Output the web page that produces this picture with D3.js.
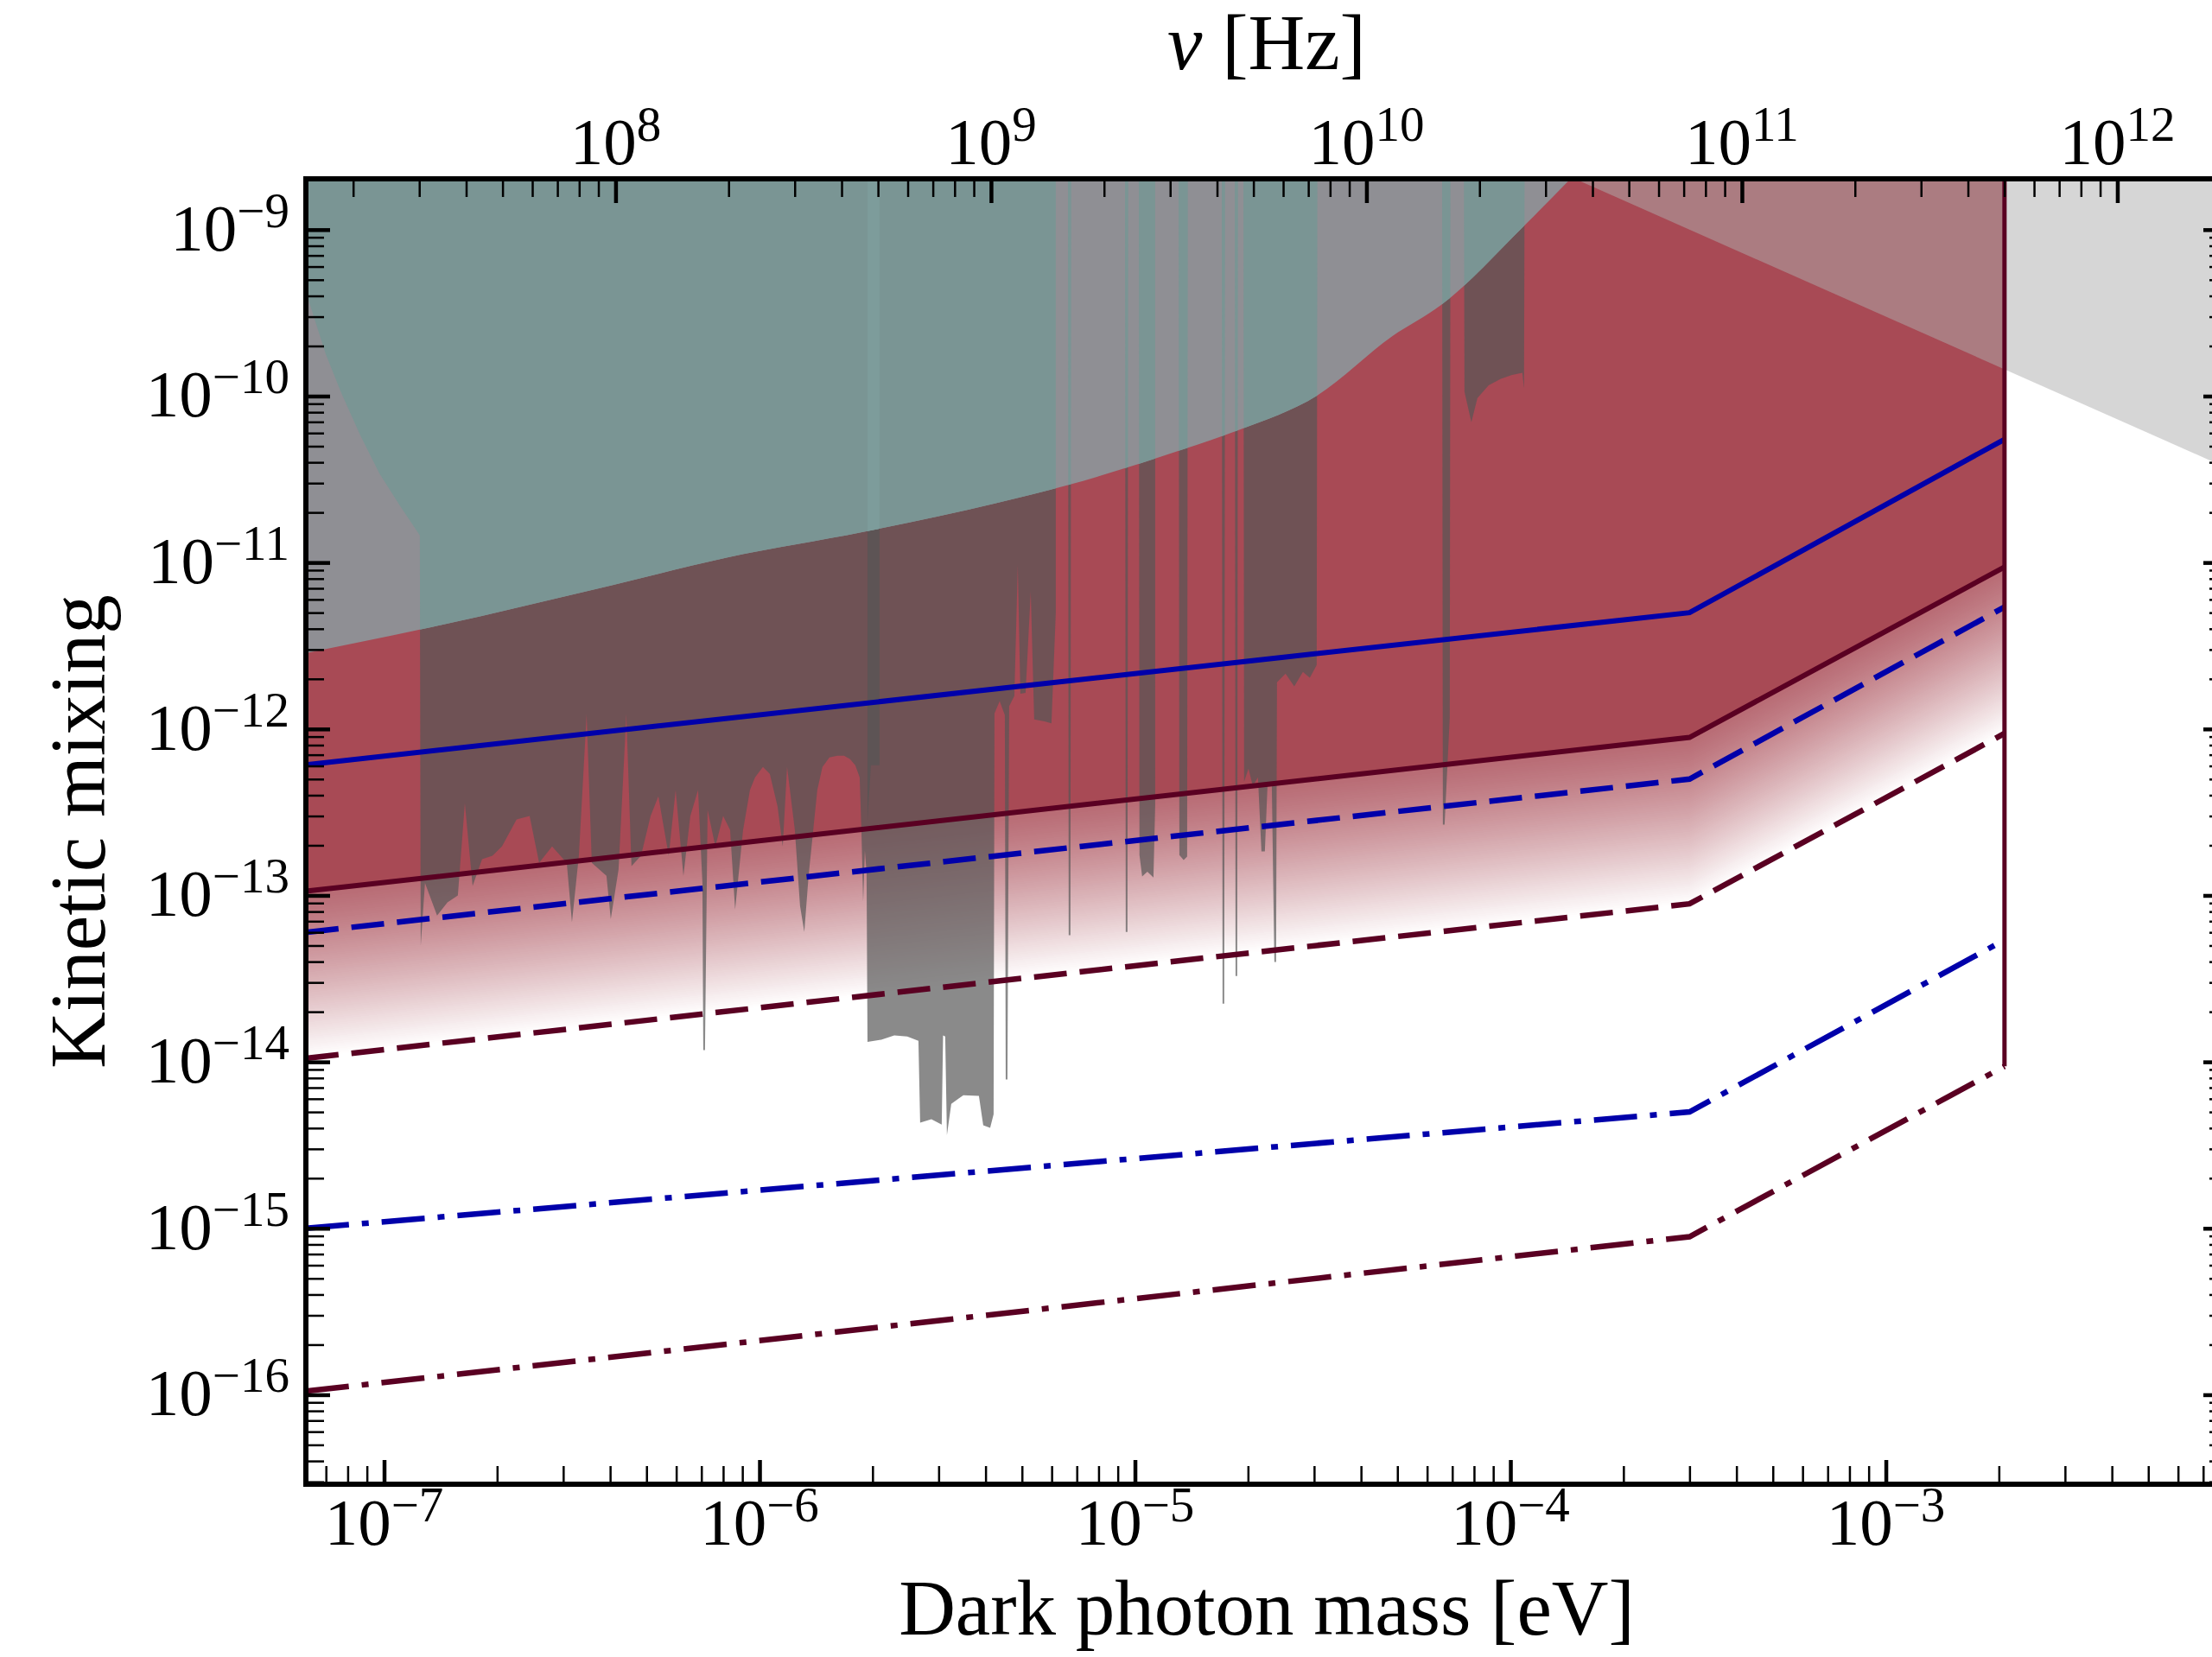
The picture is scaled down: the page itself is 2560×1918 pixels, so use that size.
<!DOCTYPE html>
<html>
<head>
<meta charset="utf-8">
<script src="https://cdn.jsdelivr.net/npm/d3@7"></script>
<style>
  html, body { margin: 0; padding: 0; background: #ffffff; }
  svg text { font-family: "Liberation Serif", "DejaVu Serif", serif; fill: #000; }
</style>
</head>
<body>
<svg id="chart" width="2560" height="1918"></svg>
<script>
// ---------------- data ----------------
// axis extents (dark photon mass in eV, kinetic mixing)
const massRange = [6.19e-8, 8.13e-3];
const mixingRange = [2.02e-9, 2.9e-17];
const EPS_CEIL = 1e-8;          // used for regions that run off the top of the frame
const EV_TO_HZ = 2.418e14;      // nu = m c^2 / h

// projected sensitivity curves: masses at the break points and the mixing reached there
const lineMass = [6.19e-8, 3.0e-4, 2.07e-3];
const blueSolid   = [6.1e-13, 5.0e-12, 5.5e-11];
const redSolid    = [1.06e-13, 8.9e-13, 9.4e-12];
const blueDashed  = [6.0e-14, 5.0e-13, 5.4e-12];
const redDashed   = [1.05e-14, 8.9e-14, 9.4e-13];
const blueDashDot = [1.0e-15, 5.0e-15, 5.4e-14];
const redDashDot  = [1.05e-16, 8.9e-16, 9.4e-15];

// upper edge of the region shaded beneath the astrophysical bound
const upperBoundMass = [6.19e-8, 1.245e-7, 4.02e-7, 8.17e-7, 1.90e-6, 4.26e-6, 6.59e-6,
  1.33e-5, 1.89e-5, 3.06e-5, 4.86e-5, 6.55e-5, 1.09e-4, 1.47e-4];
const upperBoundEps = [2.86e-12, 3.95e-12, 7.28e-12, 1.07e-11, 1.53e-11, 2.27e-11, 2.91e-11,
  4.75e-11, 6.25e-11, 1.01e-10, 2.30e-10, 3.54e-10, 1.06e-9, 2.1e-9];

// cosmological wedge edge
const wedgeMass = [1.0e-4, 1.0e-2];
const wedgeEps  = [3.0e-9, 3.0e-11];

// haloscope exclusions: lower edge, traced left to right [mass eV, mixing]
const haloscopeBound = [
  [6.19e-8, 1e-8], [6.19e-8, 4.23e-10], [6.99e-8, 1.79e-10], [7.69e-8, 1.045e-10],
  [8.64e-8, 5.82e-11], [9.71e-8, 3.44e-11], [1.096e-7, 2.24e-11], [1.245e-7, 1.455e-11],
  [1.252e-7, 4.99e-14], [1.285e-7, 1.19e-13], [1.384e-7, 7.58e-14], [1.475e-7, 9.07e-14],
  [1.572e-7, 9.98e-14], [1.641e-7, 3.58e-13], [1.721e-7, 1.14e-13], [1.824e-7, 1.65e-13],
  [1.944e-7, 1.73e-13], [2.060e-7, 1.97e-13], [2.254e-7, 2.86e-13], [2.441e-7, 3.0e-13],
  [2.588e-7, 1.57e-13], [2.802e-7, 1.97e-13], [3.066e-7, 1.57e-13], [3.165e-7, 6.89e-14],
  [3.302e-7, 1.73e-13], [3.463e-7, 1.23e-12], [3.575e-7, 1.57e-13], [3.911e-7, 1.31e-13],
  [4.016e-7, 7.22e-14], [4.212e-7, 1.43e-13], [4.418e-7, 1.23e-12], [4.560e-7, 1.50e-13],
  [4.835e-7, 1.73e-13], [5.127e-7, 3.0e-13], [5.377e-7, 3.94e-13], [5.730e-7, 1.73e-13],
  [5.978e-7, 4.29e-13], [6.270e-7, 1.31e-13], [6.541e-7, 3.0e-13], [6.860e-7, 4.29e-13],
  [7.045e-7, 1.19e-13], [7.082e-7, 1.175e-14], [7.157e-7, 1.175e-14], [7.272e-7, 3.26e-13],
  [7.627e-7, 1.97e-13], [8.00e-7, 3.0e-13], [8.35e-7, 2.47e-13], [8.61e-7, 8.24e-14],
  [9.04e-7, 2.47e-13], [9.43e-7, 4.29e-13], [9.73e-7, 5.13e-13], [1.021e-6, 5.92e-13],
  [1.065e-6, 5.38e-13], [1.117e-6, 3.42e-13], [1.153e-6, 1.97e-13], [1.184e-6, 5.92e-13],
  [1.242e-6, 2.47e-13], [1.282e-6, 8.65e-14], [1.316e-6, 6.04e-14], [1.351e-6, 1.31e-13],
  [1.425e-6, 4.29e-13], [1.471e-6, 5.92e-13], [1.535e-6, 6.75e-13], [1.610e-6, 6.91e-13],
  [1.680e-6, 6.91e-13], [1.743e-6, 6.59e-13], [1.799e-6, 6.06e-13], [1.848e-6, 5.13e-13],
  [1.868e-6, 2.47e-13], [1.888e-6, 9.18e-14], [1.908e-6, 1.86e-13], [1.928e-6, 1.38e-13],
  [1.939e-6, 1.32e-14], [2.110e-6, 1.36e-14], [2.285e-6, 1.44e-14], [2.474e-6, 1.42e-14],
  [2.650e-6, 1.34e-14], [2.678e-6, 4.31e-15], [2.869e-6, 4.52e-15], [3.057e-6, 4.20e-15],
  [3.082e-6, 1.44e-14], [3.123e-6, 1.42e-14], [3.156e-6, 3.64e-15], [3.241e-6, 5.60e-15],
  [3.491e-6, 6.31e-15], [3.840e-6, 6.24e-15], [3.943e-6, 4.16e-15], [4.114e-6, 4.01e-15],
  [4.202e-6, 4.85e-15], [4.225e-6, 1.24e-12], [4.361e-6, 1.47e-12], [4.502e-6, 1.21e-12],
  [4.526e-6, 7.83e-15], [4.574e-6, 7.83e-15], [4.623e-6, 1.37e-12], [4.772e-6, 1.58e-12],
  [4.874e-6, 9.69e-12], [4.952e-6, 1.63e-12], [5.112e-6, 1.65e-12], [5.277e-6, 6.69e-12],
  [5.390e-6, 1.14e-12], [5.742e-6, 1.11e-12], [5.991e-6, 1.08e-12], [6.152e-6, 4.97e-12],
  [6.152e-6, 1e-8], [6.625e-6, 1e-8], [6.660e-6, 5.76e-14], [6.731e-6, 5.76e-14],
  [6.767e-6, 1e-8], [9.40e-6, 1e-8], [9.45e-6, 6.04e-14], [9.55e-6, 6.04e-14],
  [9.60e-6, 1e-8], [1.023e-5, 1e-8], [1.028e-5, 1.75e-13], [1.045e-5, 1.30e-13],
  [1.079e-5, 1.39e-13], [1.120e-5, 1.28e-13], [1.132e-5, 3.50e-13], [1.132e-5, 1e-8],
  [1.306e-5, 1e-8], [1.313e-5, 1.75e-13], [1.348e-5, 1.63e-13], [1.377e-5, 1.71e-13],
  [1.384e-5, 1e-8], [1.702e-5, 1e-8], [1.711e-5, 2.24e-14], [1.729e-5, 2.24e-14],
  [1.739e-5, 1e-8], [1.843e-5, 1e-8], [1.853e-5, 3.28e-14], [1.872e-5, 3.28e-14],
  [1.882e-5, 1e-8], [1.943e-5, 1e-8], [1.953e-5, 4.83e-13], [2.006e-5, 5.78e-13],
  [2.060e-5, 4.55e-13], [2.126e-5, 5.13e-13], [2.172e-5, 1.84e-13], [2.218e-5, 1.84e-13],
  [2.254e-5, 4.55e-13], [2.314e-5, 4.83e-13], [2.351e-5, 3.98e-14], [2.376e-5, 3.98e-14],
  [2.389e-5, 1.91e-12], [2.518e-5, 2.15e-12], [2.656e-5, 1.80e-12], [2.801e-5, 2.20e-12],
  [2.922e-5, 2.03e-12], [3.048e-5, 2.42e-12], [3.064e-5, 1e-8], [6.573e-5, 1e-8],
  [6.608e-5, 2.66e-13], [6.678e-5, 2.66e-13], [6.893e-5, 1.18e-12], [6.930e-5, 1e-8],
  [7.505e-5, 1e-8], [7.545e-5, 1.06e-10], [7.870e-5, 6.96e-11], [8.168e-5, 9.73e-11],
  [8.750e-5, 1.16e-10], [9.425e-5, 1.27e-10], [1.010e-4, 1.34e-10], [1.076e-4, 1.38e-10],
  [1.087e-4, 1.11e-10], [1.093e-4, 1e-8]
];
// a second exclusion overlapping the first just above 2 micro-eV
const haloscopeOverlap = [
  [1.939e-6, 1e-8], [1.939e-6, 2.82e-13], [1.980e-6, 6.06e-13], [2.087e-6, 6.06e-13], [2.087e-6, 1e-8]
];

// tick label decades
const massDecades = [1e-7, 1e-6, 1e-5, 1e-4, 1e-3];
const freqDecades = [1e8, 1e9, 1e10, 1e11, 1e12];
const mixingDecades = [1e-9, 1e-10, 1e-11, 1e-12, 1e-13, 1e-14, 1e-15, 1e-16];

// ---------------- layout ----------------
const L = 354, R = 2578, T = 207, B = 1718;
const svg = d3.select("#chart");

const x = d3.scaleLog().domain(massRange).range([L, R]);
const y = d3.scaleLog().domain(mixingRange).range([T, B]);
const xf = d3.scaleLog().domain(massRange.map(m => m * EV_TO_HZ)).range([L, R]);

const defs = svg.append("defs");
defs.append("clipPath").attr("id", "plotClip")
  .append("rect").attr("x", L).attr("y", T).attr("width", R - L).attr("height", B - T);

const zip = (ms, es) => ms.map((m, i) => [m, es[i]]);
const line = d3.line().x(d => x(d[0])).y(d => y(d[1]));
const polygon = pts => line(pts) + "Z";

const plot = svg.append("g").attr("clip-path", "url(#plotClip)");

// red excluded region above the solid dark-red curve
const redArea = d3.area().x(d => x(d[0])).y0(d => y(d[1])).y1(() => y(EPS_CEIL));
plot.append("path").attr("d", redArea(zip(lineMass, redSolid))).attr("fill", "#a84a55");

// fading band between the solid and dashed dark-red curves
const NB = 90;
const bands = d3.range(NB).map(k => ({
  top: lineMass.map((m, i) => [m, redSolid[i] * Math.pow(10, -k / NB)]),
  bot: lineMass.map((m, i) => [m, redSolid[i] * Math.pow(10, -(k + 1) / NB)]),
  a: 0.82 * (1 - Math.pow((k + 0.5) / NB, 1.2))
}));
plot.append("g").selectAll("path").data(bands).join("path")
  .attr("d", b => d3.area().x(d => x(d[0])).y0(d => y(d[1]))
     .y1((d, i) => y(b.top[i][1]))(b.bot))
  .attr("fill", "#a84a55").attr("fill-opacity", b => b.a)
  .attr("shape-rendering", "crispEdges");

// haloscope exclusions
plot.append("path").attr("d", polygon(haloscopeBound)).attr("fill", "#555555").attr("fill-opacity", 0.69);
plot.append("path").attr("d", polygon(haloscopeOverlap)).attr("fill", "#555555").attr("fill-opacity", 0.69);

// astrophysical bound above the upper curve (smooth edge)
const smoothEdge = d3.line().x(d => x(d[0])).y(d => y(d[1])).curve(d3.curveMonotoneX);
const upperPts = zip(upperBoundMass, upperBoundEps);
const lastM = upperBoundMass[upperBoundMass.length - 1];
const upperPath = smoothEdge(upperPts) +
  `L${x(lastM)},${y(EPS_CEIL)}L${x(upperBoundMass[0])},${y(EPS_CEIL)}Z`;
plot.append("path").attr("d", upperPath).attr("fill", "#8f8f94");
defs.append("clipPath").attr("id", "upperClip").append("path").attr("d", upperPath);
const upperHalo = plot.append("g").attr("clip-path", "url(#upperClip)");
upperHalo.append("path").attr("d", polygon(haloscopeBound)).attr("fill", "#7a9594");
upperHalo.append("path").attr("d", polygon(haloscopeOverlap)).attr("fill", "#7d9c9b");

// cosmological wedge
const wedge = zip(wedgeMass, wedgeEps).concat([[wedgeMass[1], EPS_CEIL], [wedgeMass[0], EPS_CEIL]]);
plot.append("path").attr("d", polygon(wedge)).attr("fill", "#adadad").attr("fill-opacity", 0.5);

// sensitivity curves
const BLUE = "#0000aa", DARKRED = "#5a0022";
const curves = [
  { v: blueSolid, c: BLUE, dash: null, w: 6 },
  { v: redSolid, c: DARKRED, dash: null, w: 6 },
  { v: blueDashed, c: BLUE, dash: "38,15", w: 6.5 },
  { v: redDashed, c: DARKRED, dash: "38,15", w: 6.5 },
  { v: blueDashDot, c: BLUE, dash: "50,15,8,15", w: 6.5 },
  { v: redDashDot, c: DARKRED, dash: "50,15,8,15", w: 6.5 }
];
plot.append("g").selectAll("path").data(curves).join("path")
  .attr("d", d => line(zip(lineMass, d.v)))
  .attr("fill", "none").attr("stroke", d => d.c).attr("stroke-width", d => d.w)
  .attr("stroke-dasharray", d => d.dash)
  .attr("stroke-linejoin", "miter");

// upper mass edge of the projection
const edgeMass = lineMass[lineMass.length - 1];
plot.append("path")
  .attr("d", line([[edgeMass, EPS_CEIL], [edgeMass, redDashDot[redDashDot.length - 1]]]))
  .attr("stroke", DARKRED).attr("stroke-width", 5).attr("fill", "none");

// ---------------- axes ----------------
function splitTicks(scale) {
  const t = scale.ticks();
  const isMajor = v => Math.abs(Math.log10(v) - Math.round(Math.log10(v))) < 1e-6;
  return { major: t.filter(isMajor), minor: t.filter(v => !isMajor(v)) };
}
function styleAxis(g, w) {
  g.select(".domain").remove();
  g.selectAll(".tick line").attr("stroke", "#000").attr("stroke-width", w);
}
const MAJ = 28, MIN = 21;
const xt = splitTicks(x), yt = splitTicks(y), ft = splitTicks(xf);

[[d3.axisBottom(x), `translate(0,${B})`, xt],
 [d3.axisTop(xf), `translate(0,${T})`, ft],
 [d3.axisLeft(y), `translate(${L},0)`, yt],
 [d3.axisRight(y), `translate(${R},0)`, yt]].forEach(([ax, tr, tk]) => {
  svg.append("g").attr("transform", tr)
    .call(ax.tickValues(tk.minor).tickSize(-MIN).tickFormat(""))
    .call(g => styleAxis(g, 2.5));
  svg.append("g").attr("transform", tr)
    .call(ax.tickValues(tk.major).tickSize(-MAJ).tickFormat(""))
    .call(g => styleAxis(g, 4.5));
});

// frame
svg.append("rect").attr("x", L).attr("y", T).attr("width", R - L).attr("height", B - T)
  .attr("fill", "none").attr("stroke", "#000").attr("stroke-width", 6);

// power-of-ten tick labels
const BASE = 77, SUP = 57, RAISE = 27;
function powLabel(sel, v) {
  const e = Math.round(Math.log10(v));
  sel.append("tspan").attr("font-size", BASE).text("10");
  sel.append("tspan").attr("font-size", SUP).attr("dy", -RAISE).text(String(e).replace("-", "\u2212"));
}
massDecades.forEach(v => {
  svg.append("text").attr("x", x(v)).attr("y", 1788).attr("text-anchor", "middle").call(s => powLabel(s, v));
});
freqDecades.forEach(v => {
  svg.append("text").attr("x", xf(v)).attr("y", 190).attr("text-anchor", "middle").call(s => powLabel(s, v));
});
mixingDecades.forEach(v => {
  svg.append("text").attr("x", 335).attr("y", y(v) + 24).attr("text-anchor", "end").call(s => powLabel(s, v));
});

// axis titles
svg.append("text").attr("x", (L + R) / 2).attr("y", 1892).attr("text-anchor", "middle")
  .attr("font-size", 91).text("Dark photon mass [eV]");
const freqTitle = svg.append("text").attr("x", (L + R) / 2).attr("y", 80).attr("text-anchor", "middle").attr("font-size", 91);
freqTitle.append("tspan").attr("font-style", "italic").text("\u03bd");
freqTitle.append("tspan").text(" [Hz]");
svg.append("text").attr("transform", `translate(121,${(T + B) / 2}) rotate(-90)`)
  .attr("text-anchor", "middle").attr("font-size", 91).text("Kinetic mixing");
</script>
</body>
</html>
